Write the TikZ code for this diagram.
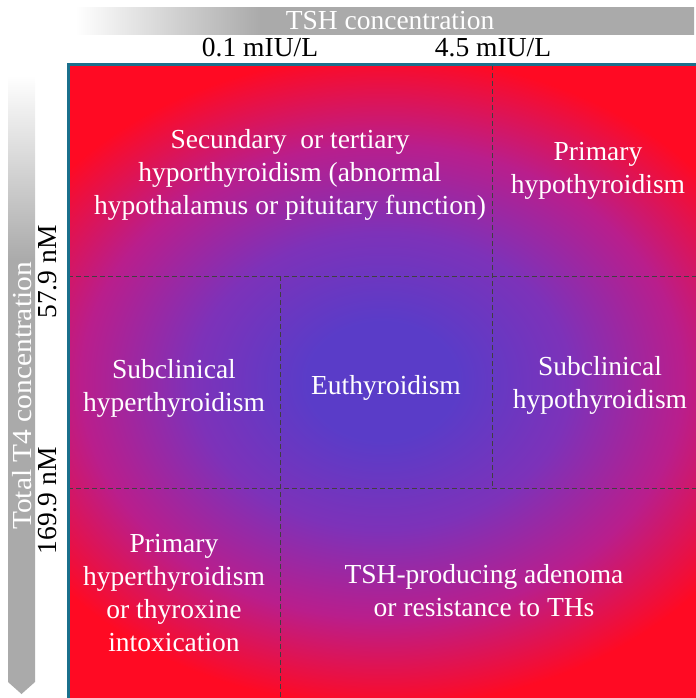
\documentclass[tikz,border=0pt]{standalone}
\usepackage{fontspec}
\setmainfont{Liberation Serif}
\usetikzlibrary{calc}

\definecolor{euthblue}{RGB}{90,60,200}
\definecolor{hyppurple}{RGB}{125,50,185}
\definecolor{hypmagenta}{RGB}{185,30,140}
\definecolor{hypred}{RGB}{255,10,35}
\definecolor{axisgray}{RGB}{170,170,170}
\definecolor{frameteal}{RGB}{27,112,140}

\pgfdeclareradialshading{thyroidfield}{\pgfpoint{0bp}{0bp}}{color(0bp)=(euthblue); color(4bp)=(euthblue); color(10bp)=(hyppurple); color(16bp)=(hypmagenta); color(22bp)=(hypred); color(50bp)=(hypred)}
\pgfdeclareverticalshading{tfourbar}{100bp}{color(0bp)=(axisgray); color(60bp)=(axisgray); color(75bp)=(white); color(100bp)=(white)}
\pgfdeclarehorizontalshading{tshbar}{100bp}{color(0bp)=(white); color(25bp)=(white); color(40bp)=(axisgray); color(100bp)=(axisgray)}

\newcommand{\cellfont}{\fontsize{27.5bp}{33bp}\selectfont}

\begin{document}
\begin{tikzpicture}
		[x=1bp,y=-1bp,line cap=butt,
		%Styles
		cell text/.style={text=white,align=center,font=\cellfont,inner sep=0pt},
		axis text/.style={font=\cellfont,inner sep=0pt},
		bar text/.style={text=white,font=\cellfont,inner sep=0pt},
		grid line/.style={draw=black!75,line width=0.9bp,dash pattern=on 5bp off 3bp},
		frame line/.style={draw=frameteal,line width=3bp}
		]
		
		\useasboundingbox (0,0) rectangle (696,698);
		
		%Corners of the field
		\coordinate (nw) at (68,65);
		\coordinate (ne) at (696,65);
		\coordinate (sw) at (68,698);
		\coordinate (se) at (696,698);
		
		%Cut-off lines
		\coordinate (lowT4w) at (68,276);
		\coordinate (lowT4e) at (696,276);
		\coordinate (highT4w) at (68,488);
		\coordinate (highT4e) at (696,488);
		\coordinate (highTSHn) at (492,65);
		\coordinate (highTSHs) at (492,488);
		\coordinate (lowTSHn) at (280,276);
		\coordinate (lowTSHs) at (280,698);
		
		%The graphic
		\begin{scope}
			\clip (nw) rectangle (se);
			\shade[shading=thyroidfield] (-88,11) rectangle (852,751);
		\end{scope}
		
		\draw[grid line] (lowT4w) -- (lowT4e);
		\draw[grid line] (highT4w) -- (highT4e);
		\draw[grid line] (highTSHn) -- (highTSHs);
		\draw[grid line] (lowTSHn) -- (lowTSHs);
		
		\draw[frame line] (sw) -- (nw) -- (ne);
		
		%Axes
		\shade[shading=tshbar] (75,8) rectangle (694,35);
		\node[bar text] (tshaxis) at (390,21) {TSH concentration};
		\shade[shading=tfourbar] (8,75) -- (35,75) -- (35,682) -- (21.5,694) -- (8,682) -- cycle;
		\node[bar text,rotate=90] (tfouraxis) at (22,396) {\scalebox{1.07}[1]{Total T4 concentration}};
		
		\node[axis text] (lowtsh) at (260,48) {0.1 mIU/L};
		\node[axis text] (hightsh) at (493,48) {4.5 mIU/L};
		\node[axis text,rotate=90] (lowtfour) at (48,272) {57.9 nM};
		\node[axis text,rotate=90] (hightfour) at (48,501) {169.9 nM};
		
		%Diagnoses
		\node[cell text] (secondary) at (290,175) {Secundary~ or tertiary\\hyporthyroidism (abnormal\\hypothalamus or pituitary function)};
		\node[cell text] (primaryhypo) at (598,171) {Primary\\hypothyroidism};
		\node[cell text] (subhyper) at (174,388) {Subclinical\\hyperthyroidism};
		\node[cell text] (euthyroid) at (386,388) {Euthyroidism};
		\node[cell text] (subhypo) at (600,385) {Subclinical\\hypothyroidism};
		\node[cell text] (primaryhyper) at (174,593) {Primary\\hyperthyroidism\\or thyroxine\\intoxication};
		\node[cell text] (adenoma) at (484,591) {TSH-producing adenoma\\or resistance to THs};
	\end{tikzpicture}
\end{document}
